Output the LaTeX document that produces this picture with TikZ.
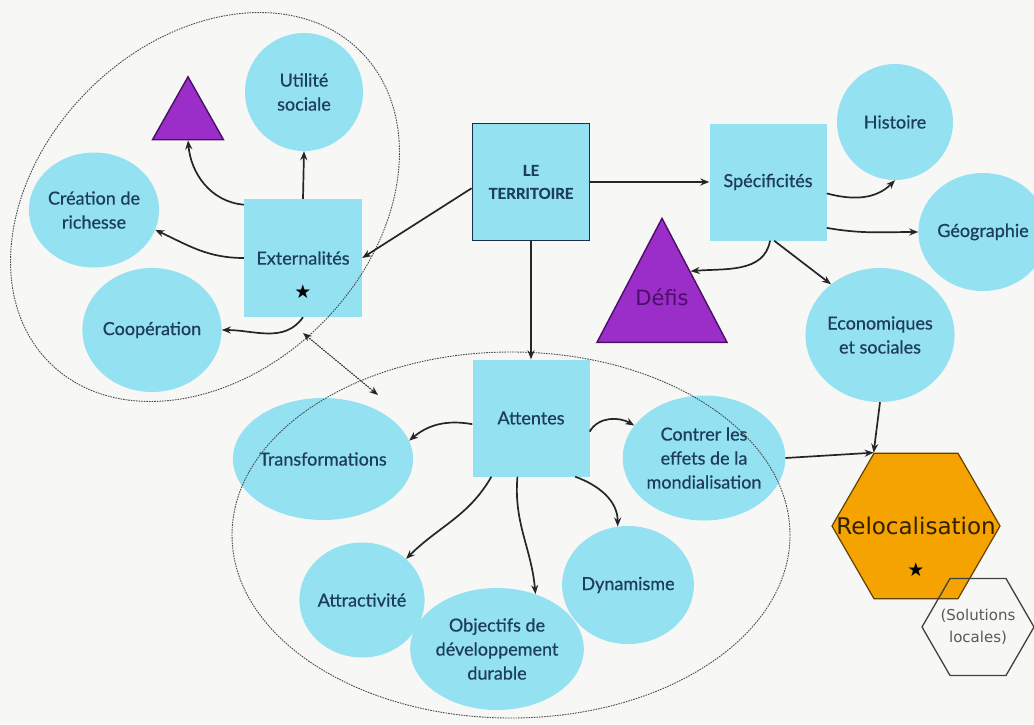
\documentclass[tikz,border=0pt]{standalone}
\usepackage{fontspec}
\setmainfont{Lato}[FakeBold=0.6]
\newfontfamily\dejavu{DejaVu Sans}
\usetikzlibrary{positioning,calc,arrows.meta,shapes.geometric}
\tikzset{>={Stealth[length=9pt,width=7pt]}}
\definecolor{cyanfill}{HTML}{93E1F1}
\definecolor{inktext}{HTML}{1E3D5A}
\definecolor{defiviolet}{HTML}{9B2DC9}
\definecolor{defitext}{HTML}{4A0F66}
\definecolor{relocorange}{HTML}{F5A300}
\definecolor{paper}{HTML}{F7F7F5}

\begin{document}
\begin{tikzpicture}[
    x=1pt, y=-1pt,
    topic/.style={rectangle, fill=cyanfill, minimum size=117pt, inner sep=2pt,
      text=inktext, align=center, font=\fontsize{18}{24}\selectfont},
    idea/.style={ellipse, fill=cyanfill, inner sep=0pt, text=inktext,
      align=center, font=\fontsize{18}{24}\selectfont},
    warn/.style={isosceles triangle, shape border rotate=90, isosceles triangle stretches,
      fill=defiviolet, draw=defitext, line width=1.4pt, inner sep=0pt},
    hexa/.style={regular polygon, regular polygon sides=6, inner sep=0pt},
    starmark/.style={font=\dejavu\fontsize{19}{19}\selectfont, text=black},
    link/.style={->, line width=1.7pt, draw=black!85},
    group/.style={ellipse, draw=black!70, line width=0.9pt, dash pattern=on 1.6pt off 1pt}
]
\fill[paper] (0,0) rectangle (1034,724);
\useasboundingbox (0,0) rectangle (1034,724);

% centre
\node[topic, draw=inktext!80!black, line width=1.8pt,
      font=\bfseries\fontsize{15}{23}\selectfont] (terr) at (531,182) {LE\\TERRITOIRE};
\node[topic] (spec) at (768,182) {Spécificités};
\node[topic] (att) at (531,418) {Attentes};

% externalites
\node[topic, minimum size=118pt,
      label={[starmark, yshift=-34pt]center:★}] (ext) at (303,258) {Externalités};
\node[idea, minimum width=118pt, minimum height=118pt] (util) at (304,92) {Utilité\\sociale};
\node[idea, minimum width=118pt, minimum height=115pt] (crea) at (94,210) {Création de\\richesse};
\node[idea, minimum width=127pt, minimum height=124pt] (coop) at (152,330) {Coopération};
\node[warn, minimum width=71pt, minimum height=63pt] (tri) at (188,119) {};

% specificites
\node[idea, minimum width=116pt, minimum height=116pt] (hist) at (895,122) {Histoire};
\node[idea, minimum width=120pt, minimum height=118pt] (geo) at (983,232) {Géographie};
\node[idea, minimum width=138pt, minimum height=134pt] (eco) at (880,335) {Economiques\\et sociales};
\node[warn, minimum width=130pt, minimum height=124pt,
      label={[text=defitext, font=\dejavu\fontsize{21}{21}\selectfont, yshift=6pt]center:Défis}]
      (defis) at (662,303) {};

% attentes
\node[idea, minimum width=153pt, minimum height=122pt] (trans) at (323,459) {Transformations};
\node[idea, minimum width=145pt, minimum height=125pt] (contrer) at (704,458)
      {Contrer les\\effets de la\\mondialisation};
\node[idea, minimum width=115pt, minimum height=115pt] (attr) at (362,600) {Attractivité};
\node[idea, minimum width=145pt, minimum height=122pt] (obj) at (497,649)
      {Objectifs de\\développement\\durable};
\node[idea, minimum width=118pt, minimum height=118pt] (dyn) at (628,585) {Dynamisme};

% relocalisation
\node[hexa, fill=relocorange, draw=black!60!relocorange, line width=1.2pt, minimum size=168pt,
      label={[text=black!80!relocorange, font=\dejavu\fontsize{23}{23}\selectfont]center:Relocalisation},
      label={[starmark, yshift=-44pt]center:★}] (reloc) at (916,526) {};
\node[hexa, draw=black!75, line width=1.3pt, minimum size=112pt,
      label={[text=black!65, align=center, font=\dejavu\fontsize{15}{22}\selectfont]center:(Solutions\\locales)}]
      (sol) at (978,627) {};

% groupes
\node[group, minimum width=440pt, minimum height=330pt, rotate=45] (extgroup) at (205,207) {};
\node[group, minimum width=558pt, minimum height=366pt] (attgroup) at (511,535) {};
\coordinate (linkA) at (303,333);
\coordinate (linkB) at (378,395);

% connecteurs
\draw[link] (ext.north) -- (util.south);
\draw[link] (ext.138) to[out=175,in=-85] (tri.lower side);
\draw[link] (ext.west) to[out=180,in=-25] (crea.-18);
\draw[link] (ext.south) to[out=-125,in=0] (coop.east);
\draw[link] (terr.186) -- (ext.east);
\draw[link, <->, line width=1.1pt, dash pattern=on 1.6pt off 1pt] (linkA) -- (linkB);

\draw[link] (terr) -- (spec);
\draw[link] (terr) -- (att);
\draw[link] (spec.-11) to[out=-15,in=-135] (hist.south);
\draw[link] (spec.-38) to[out=-10,in=180] (geo.west);
\draw[link] (spec.-88) to[out=-100,in=5] (defis.48);
\draw[link] (spec.-84) -- (eco.134);

\draw[link] (att.186) to[out=170,in=40] (trans.12);
\draw[link] (att.-13) to[out=60,in=150] (contrer.155);
\draw[link] (att.-124) to[out=-120,in=45] (attr.43);
\draw[link] (att.-103) to[out=-95,in=95] (obj.55);
\draw[link] (att.-53) to[out=-20,in=90] (dyn.100);

\draw[link] (contrer.east) -- (reloc.120);
\draw[link] (eco.south) -- (reloc.120);
\end{tikzpicture}
\end{document}
